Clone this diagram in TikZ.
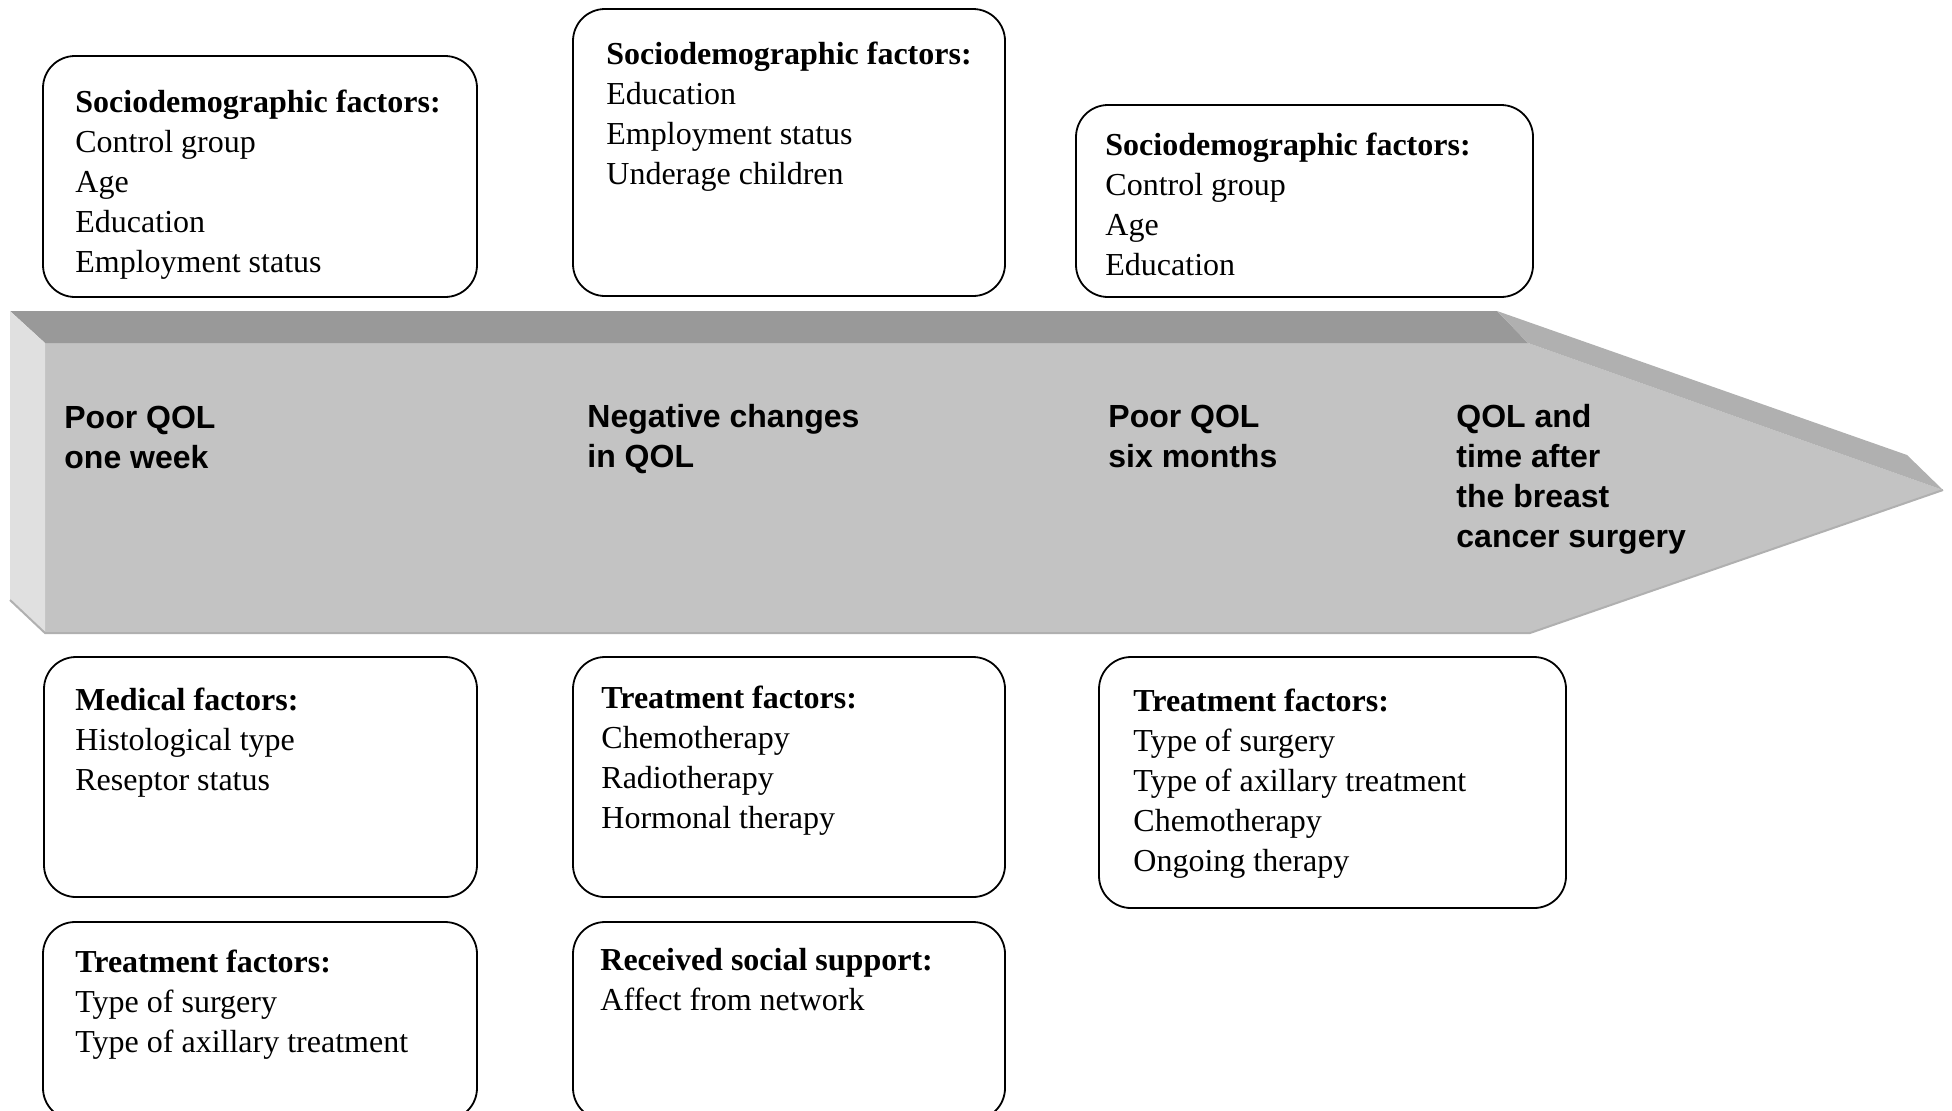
\documentclass[tikz,border=0pt]{standalone}
\usepackage{fontspec}
\setmainfont{Liberation Serif}
\setsansfont{Liberation Sans}
\definecolor{facefront}{gray}{0.765}
\definecolor{facetop}{gray}{0.60}
\definecolor{faceleft}{gray}{0.88}
\definecolor{faceright}{gray}{0.69}
\begin{document}
\begin{tikzpicture}[x=0.5pt,y=-0.5pt,
  box/.style 2 args={draw=black, line width=0.9pt, rounded corners=16pt, fill=white,
    minimum width=#1, minimum height=#2, inner sep=0pt, outer sep=0pt},
  txt/.style={anchor=base west, inner sep=0pt, font=\fontsize{16}{20}\selectfont},
  lbl/.style={anchor=base west, inner sep=0pt, font=\sffamily\bfseries\fontsize{16}{20}\selectfont}]
\useasboundingbox (0,0) rectangle (1952,1110);

% arrow body
\fill[facefront] (45,343) -- (1528,343) -- (1943,490) -- (1530,633) -- (45,633) -- cycle;
\fill[facetop] (10,311) -- (1497,311) -- (1528,343) -- (45,343) -- cycle;
\fill[faceleft] (10,311) -- (45,343) -- (45,633) -- (10,600) -- cycle;
\fill[faceright] (1497,311) -- (1907,455) -- (1943,490) -- (1528,343) -- cycle;
\draw[faceright, line width=1pt] (10,600) -- (45,633) -- (1530,633) -- (1943,490);

% arrow labels
\node[lbl] (a1) at (64,428) {\begin{tabular}[t]{@{}l@{}}Poor QOL\\one week\end{tabular}};
\node[lbl] (a2) at (587,427) {\begin{tabular}[t]{@{}l@{}}Negative changes\\in QOL\end{tabular}};
\node[lbl] (a3) at (1108,427) {\begin{tabular}[t]{@{}l@{}}Poor QOL\\six months\end{tabular}};
\node[lbl] (a4) at (1456,427) {\begin{tabular}[t]{@{}l@{}}QOL and\\time after\\the breast\\cancer surgery\end{tabular}};

% boxes
\node[box={217pt}{120.5pt}] (b1) at (260,176.5) {};
\node[box={216pt}{143.5pt}] (b2) at (789,152.5) {};
\node[box={228.5pt}{96pt}] (b3) at (1304.5,201) {};
\node[box={216.5pt}{120pt}] (b4) at (260.5,777) {};
\node[box={216pt}{120pt}] (b5) at (789,777) {};
\node[box={233.5pt}{125.5pt}] (b6) at (1332.5,782.5) {};
\node[box={217pt}{99pt}] (b7) at (260,1021) {};
\node[box={216pt}{99pt}] (b8) at (789,1021) {};

% box texts
\node[txt] (t1) at (75,112) {\begin{tabular}[t]{@{}l@{}}\textbf{Sociodemographic factors:}\\Control group\\Age\\Education\\Employment status\end{tabular}};
\node[txt] (t2) at (606,64) {\begin{tabular}[t]{@{}l@{}}\textbf{Sociodemographic factors:}\\Education\\Employment status\\Underage children\end{tabular}};
\node[txt] (t3) at (1105,155) {\begin{tabular}[t]{@{}l@{}}\textbf{Sociodemographic factors:}\\Control group\\Age\\Education\end{tabular}};
\node[txt] (t4) at (75,710) {\begin{tabular}[t]{@{}l@{}}\textbf{Medical factors:}\\Histological type\\Reseptor status\end{tabular}};
\node[txt] (t5) at (601,708) {\begin{tabular}[t]{@{}l@{}}\textbf{Treatment factors:}\\Chemotherapy\\Radiotherapy\\Hormonal therapy\end{tabular}};
\node[txt] (t6) at (1133,711) {\begin{tabular}[t]{@{}l@{}}\textbf{Treatment factors:}\\Type of surgery\\Type of axillary treatment\\Chemotherapy\\Ongoing therapy\end{tabular}};
\node[txt] (t7) at (75,972) {\begin{tabular}[t]{@{}l@{}}\textbf{Treatment factors:}\\Type of surgery\\Type of axillary treatment\end{tabular}};
\node[txt] (t8) at (600,970) {\begin{tabular}[t]{@{}l@{}}\textbf{Received social support:}\\Affect from network\end{tabular}};
\end{tikzpicture}
\end{document}
